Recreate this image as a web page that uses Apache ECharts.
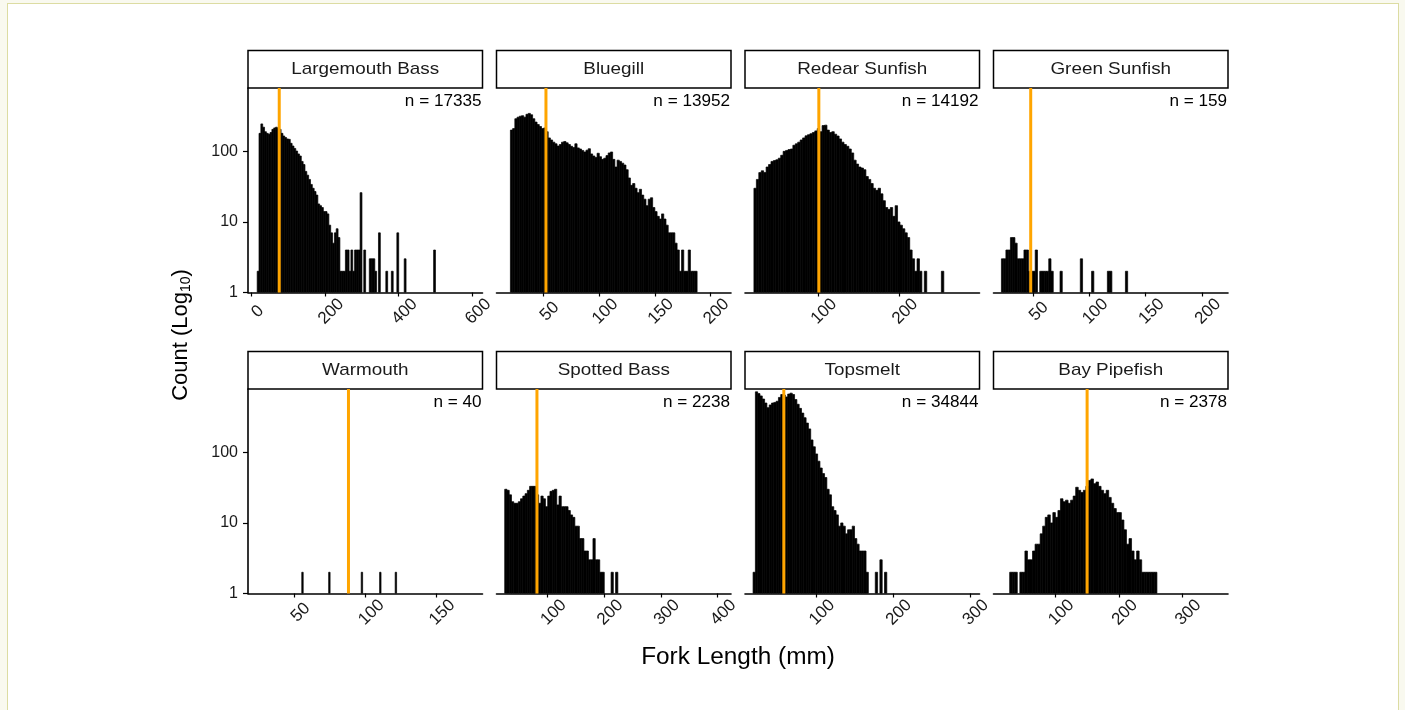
<!DOCTYPE html>
<html>
<head>
<meta charset="utf-8">
<script src="https://cdn.jsdelivr.net/npm/echarts@6/dist/echarts.min.js"></script>
<style>
html, body { margin: 0; padding: 0; background: #f9f9ef; overflow: hidden; }
#frame { position: absolute; left: 7px; top: 3px; width: 1392px; height: 740px; background: #fff; border: 1.5px solid #dcdca2; box-sizing: border-box; }
#chart { position: absolute; left: 0; top: 0; width: 1405px; height: 710px; }
</style>
</head>
<body>
<div id="frame"></div>
<div id="chart"></div>
<script>
// facet order, left to right, top to bottom
const species = ['Largemouth Bass', 'Bluegill', 'Redear Sunfish', 'Green Sunfish', 'Warmouth', 'Spotted Bass', 'Topsmelt', 'Bay Pipefish'];
const sampleN = [17335, 13952, 14192, 159, 40, 2238, 34844, 2378];
const medianLen = [75, 52, 101, 48, 88, 81, 58, 150];
const xMin = [-10, 7.5, 10, 15, 17, 9.5, 7.5, 2.5];
const xMax = [628, 218.5, 299, 223, 182.7, 424, 312.6, 372];
const xTicks = [[0, 200, 400, 600], [50, 100, 150, 200], [100, 200], [50, 100, 150, 200], [50, 100, 150], [100, 200, 300, 400], [100, 200, 300], [100, 200, 300]];
const yTicks = [1, 10, 100];
const yMax = 790;

// histograms: first bin edge (mm), bin width (mm), counts per bin
const lmbStart = 15, lmbBin = 5;
const lmbCounts = [
    2, 180, 245, 220, 190, 180, 175, 185, 205, 215,
    220, 210, 205, 180, 165, 157, 150, 148, 130, 119,
    110, 101, 92, 86, 72, 65, 52, 46, 40, 34,
    30, 27, 24, 18, 17, 16, 14, 14, 13, 9,
    7, 5, 7, 8, 6, 2, 2, 2, 4, 4,
    2, 4, 2, 4, 4, 4, 26, 0, 4, 0,
    0, 3, 3, 3, 2, 0, 7, 0, 0, 0,
    2, 0, 0, 2, 0, 0, 7, 0, 0, 0,
    3, 0, 0, 0, 0, 0, 0, 0, 0, 0,
    0, 0, 0, 0, 0, 0, 4,
];
const bgStart = 20, bgBin = 2;
const bgCounts = [
    200, 210, 290, 305, 315, 320, 305, 335, 345, 330,
    290, 260, 240, 225, 210, 215, 190, 155, 145, 135,
    128, 119, 125, 135, 138, 132, 125, 118, 113, 128,
    112, 108, 103, 98, 104, 109, 92, 86, 82, 94,
    84, 77, 80, 87, 95, 98, 77, 60, 75, 72,
    68, 64, 55, 42, 33, 35, 30, 26, 29, 24,
    21, 17, 21, 22, 16, 14, 12, 11, 13, 11,
    9, 7, 7, 7, 5, 4, 2, 4, 2, 2,
    4, 2, 2, 2,
];
const rsStart = 21, rsBin = 3;
const rsCounts = [
    30, 40, 50, 53, 50, 60, 65, 72, 74, 76,
    80, 88, 100, 103, 106, 108, 122, 128, 135, 145,
    155, 166, 172, 178, 185, 195, 210, 190, 232, 235,
    200, 185, 190, 175, 165, 150, 135, 125, 118, 108,
    95, 75, 66, 60, 58, 55, 44, 40, 35, 30,
    28, 30, 25, 20, 16, 15, 16, 12, 17, 10,
    9, 8, 7, 6, 4, 3, 2, 3, 2, 0,
    2, 0, 0, 0, 0, 0, 0, 2,
];
const gsStart = 22, gsBin = 2;
const gsCounts = [
    3, 3, 4, 4, 6, 6, 5, 3, 3, 3,
    4, 4, 2, 2, 2, 4, 0, 2, 2, 2,
    2, 3, 2, 0, 0, 0, 2, 0, 0, 0,
    0, 0, 0, 0, 0, 3, 0, 0, 0, 0,
    2, 0, 0, 0, 0, 0, 0, 2, 2, 0,
    0, 0, 0, 0, 0, 2,
];
const wmStart = 55, wmBin = 1;
const wmCounts = [
    2, 0, 0, 0, 0, 0, 0, 0, 0, 0,
    0, 0, 0, 0, 0, 0, 0, 0, 0, 2,
    0, 0, 0, 0, 0, 0, 0, 0, 0, 0,
    0, 0, 0, 0, 0, 0, 0, 0, 0, 0,
    0, 0, 2, 0, 0, 0, 0, 0, 0, 0,
    0, 0, 0, 0, 0, 2, 0, 0, 0, 0,
    0, 0, 0, 0, 0, 0, 2,
];
const sbStart = 24, sbBin = 4;
const sbCounts = [
    30, 29, 25, 20, 19, 19, 20, 22, 24, 26,
    29, 33, 33, 33, 25, 19, 24, 22, 17, 24,
    28, 29, 30, 18, 24, 17, 17, 17, 15, 13,
    12, 9, 9, 6, 6, 4, 4, 3, 3, 6,
    3, 3, 2, 2, 0, 0, 0, 2, 0, 2,
];
const tsStart = 18, tsBin = 3;
const tsCounts = [
    2, 720, 680, 630, 570, 500, 430, 470, 500, 510,
    530, 600, 660, 650, 610, 670, 690, 660, 560, 480,
    420, 360, 310, 260, 215, 150, 120, 95, 75, 60,
    50, 44, 30, 25, 17, 15, 13, 9, 10, 9,
    7, 8, 8, 9, 6, 5, 4, 4, 4, 2,
    0, 0, 0, 2, 0, 3, 0, 2,
];
const bpStart = 28, bpBin = 4;
const bpCounts = [
    2, 2, 2, 0, 2, 2, 4, 3, 3, 4,
    5, 5, 7, 9, 12, 13, 10, 14, 12, 15,
    22, 20, 21, 19, 21, 24, 32, 29, 27, 29,
    33, 40, 42, 36, 38, 33, 29, 26, 29, 23,
    19, 16, 14, 14, 11, 8, 5, 6, 4, 3,
    4, 3, 2, 2, 2, 2, 2, 2,
];

const hists = [
    [lmbStart, lmbBin, lmbCounts],
    [bgStart, bgBin, bgCounts],
    [rsStart, rsBin, rsCounts],
    [gsStart, gsBin, gsCounts],
    [wmStart, wmBin, wmCounts],
    [sbStart, sbBin, sbCounts],
    [tsStart, tsBin, tsCounts],
    [bpStart, bpBin, bpCounts],
];

const lefts = [248, 496.5, 745, 993.5];
const tops = [88, 389];
const panelW = 234.5;
const panelH = 204.5;
const stripH = 37.5;
const font = '"Liberation Sans", Arial, sans-serif';

const binsOf = (start, width, counts) => {
    const out = [];
    counts.forEach((c, i) => {
        // a count of 1 sits on the log baseline, nothing to draw
        if (c > 1) out.push([start + i * width, start + (i + 1) * width, c]);
    });
    return out;
};

const renderBin = (params, api) => {
    const top = api.coord([api.value(0), api.value(2)]);
    const bot = api.coord([api.value(1), 1]);
    return {
        type: 'rect',
        shape: { x: top[0], y: top[1], width: bot[0] - top[0], height: bot[1] - top[1] },
        style: { fill: '#000', stroke: '#000', lineWidth: 0.7 },
    };
};

const grid = [];
const xAxis = [];
const yAxis = [];
const series = [];
const graphic = [];

species.forEach((name, i) => {
    const col = i % 4;
    const row = Math.floor(i / 4);
    const left = lefts[col];
    const top = tops[row];

    grid.push({ left, top, width: panelW, height: panelH });

    xAxis.push({
        gridIndex: i,
        type: 'value',
        min: xMin[i],
        max: xMax[i],
        axisLine: { show: true, onZero: false, lineStyle: { color: '#000', width: 1.6 } },
        axisTick: { show: true, length: 4, customValues: xTicks[i], lineStyle: { color: '#000', width: 1.2 } },
        axisLabel: {
            customValues: xTicks[i],
            rotate: 45,
            align: 'center',
            verticalAlign: 'top',
            fontSize: 17,
            margin: 13,
            color: '#1a1a1a',
            fontFamily: font,
        },
        splitLine: { show: false },
    });

    const first = col === 0;
    yAxis.push({
        gridIndex: i,
        type: 'log',
        logBase: 10,
        min: 1,
        max: yMax,
        axisLine: { show: first, onZero: false, lineStyle: { color: '#000', width: 1.6 } },
        axisTick: { show: first, length: 5, customValues: yTicks, lineStyle: { color: '#000', width: 1.2 } },
        axisLabel: { show: first, customValues: yTicks, fontSize: 16, margin: 10, color: '#1a1a1a', fontFamily: font },
        splitLine: { show: false },
    });

    const [start, width, counts] = hists[i];
    series.push({
        type: 'custom',
        xAxisIndex: i,
        yAxisIndex: i,
        renderItem: renderBin,
        encode: { x: [0, 1], y: 2 },
        data: binsOf(start, width, counts),
        clip: true,
        z: 2,
    });
    series.push({
        type: 'line',
        xAxisIndex: i,
        yAxisIndex: i,
        data: [[medianLen[i], 1], [medianLen[i], yMax]],
        symbol: 'none',
        lineStyle: { color: '#FFA500', width: 3 },
        z: 3,
    });

    // facet strip
    graphic.push({
        type: 'rect',
        shape: { x: left, y: top - stripH, width: panelW, height: stripH },
        style: { fill: '#fff', stroke: '#000', lineWidth: 1.5 },
    });
    graphic.push({
        type: 'text',
        x: left + panelW / 2,
        y: top - stripH / 2,
        scaleX: 1.11,
        style: { text: name, fontSize: 17, fontFamily: font, fill: '#1a1a1a', align: 'center', verticalAlign: 'middle' },
    });
    graphic.push({
        type: 'text',
        x: left + panelW - 1,
        y: top + 14,
        scaleX: 1.07,
        style: { text: 'n = ' + sampleN[i], fontSize: 16, fontFamily: font, fill: '#000', align: 'right', verticalAlign: 'middle' },
    });
});

graphic.push({
    type: 'text',
    x: 738,
    y: 658,
    scaleX: 1.06,
    style: { text: 'Fork Length (mm)', fontSize: 23, fontFamily: font, fill: '#000', align: 'center', verticalAlign: 'middle' },
});
graphic.push({
    type: 'text',
    x: 181,
    y: 335,
    rotation: Math.PI / 2,
    style: {
        text: '{a|Count (Log}{s|10}{a|)}',
        align: 'center',
        verticalAlign: 'middle',
        rich: {
            a: { fontSize: 22, fontFamily: font, fill: '#000', lineHeight: 24 },
            s: { fontSize: 14, fontFamily: font, fill: '#000', verticalAlign: 'bottom', lineHeight: 16 },
        },
    },
});

const chart = echarts.init(document.getElementById('chart'), null, { renderer: 'canvas' });
chart.setOption({
    animation: false,
    grid,
    xAxis,
    yAxis,
    series,
    graphic,
});
</script>
</body>
</html>
